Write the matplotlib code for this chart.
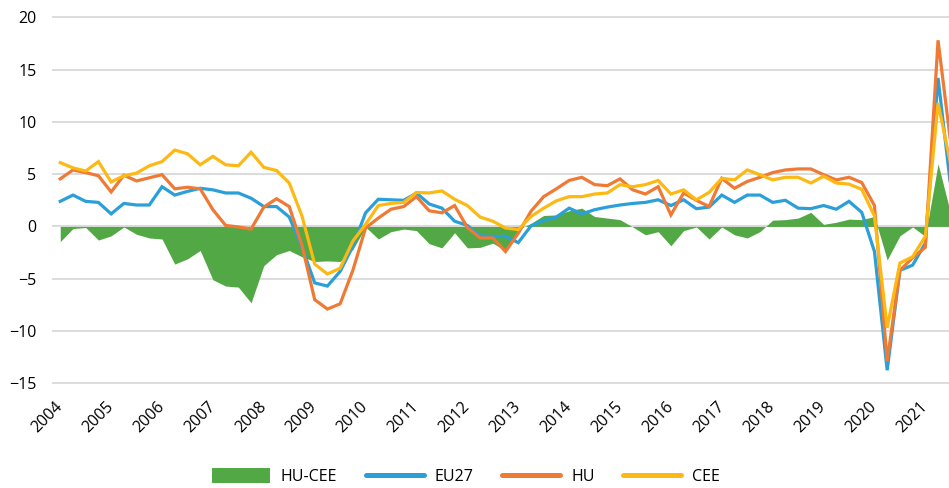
import matplotlib
matplotlib.use("Agg")
import matplotlib.pyplot as plt
from matplotlib.lines import Line2D
from matplotlib.patches import Patch
import numpy as np

plt.rcParams['font.family'] = ['Open Sans', 'DejaVu Sans']

years = [str(y) for y in range(2004, 2022)]

hu_cee = [-1.45, -0.2, -0.1, -1.3, -0.9, -0.05, -0.75, -1.1, -1.2, -3.6,
          -3.1, -2.3, -5.1, -5.7, -5.8, -7.3, -3.75, -2.7, -2.3, -2.9,
          -3.35, -3.3, -3.35, -2.2, -0.05, -1.2, -0.5, -0.25, -0.4, -1.65,
          -2.05, -0.6, -2.05, -2.0, -1.6, -2.3, -0.3, 0.3, 1.05, 1.1,
          1.5, 1.75, 0.95, 0.8, 0.65, -0.05, -0.8, -0.5, -1.85, -0.4,
          -0.05, -1.2, -0.05, -0.8, -1.1, -0.5, 0.6, 0.65, 0.8, 1.35,
          0.2, 0.4, 0.7, 0.65, 0.95, -3.2, -0.9, -0.05, -0.95, 6.0,
          1.2]

eu27 = [2.4, 3.0, 2.4, 2.3, 1.2, 2.2, 2.05, 2.05, 3.8, 3.0,
        3.35, 3.65, 3.5, 3.2, 3.2, 2.7, 1.9, 1.9, 0.9, -2.0,
        -5.4, -5.7, -4.3, -1.9, 1.3, 2.6, 2.55, 2.5, 3.2, 2.15,
        1.75, 0.5, 0.1, -0.9, -0.95, -0.95, -1.55, 0.05, 0.55, 0.9,
        1.75, 1.2, 1.6, 1.85, 2.05, 2.2, 2.3, 2.55, 2.0, 2.55,
        1.7, 1.85, 3.0, 2.3, 3.0, 3.0, 2.3, 2.5, 1.75, 1.7,
        2.0, 1.65, 2.4, 1.35, -2.4, -13.75, -4.2, -3.7, -1.6, 14.2,
        3.7]

hu = [4.55, 5.4, 5.15, 4.85, 3.3, 4.9, 4.35, 4.65, 4.95, 3.6,
      3.75, 3.6, 1.6, 0.1, -0.05, -0.25, 1.85, 2.65, 1.9, -1.8,
      -7.0, -7.9, -7.4, -4.2, -0.15, 0.8, 1.65, 1.9, 2.85, 1.5,
      1.3, 2.0, -0.1, -1.1, -1.1, -2.4, -0.65, 1.45, 2.85, 3.6,
      4.4, 4.7, 4.0, 3.9, 4.55, 3.5, 3.1, 3.8, 1.1, 3.2,
      2.5, 1.9, 4.6, 3.65, 4.3, 4.7, 5.15, 5.4, 5.5, 5.5,
      4.95, 4.45, 4.7, 4.2, 2.0, -12.9, -4.2, -3.0, -2.0, 17.8,
      7.9]

cee = [6.1, 5.6, 5.3, 6.2, 4.25, 4.85, 5.1, 5.8, 6.2, 7.3,
       6.95, 5.9, 6.7, 5.9, 5.8, 7.1, 5.65, 5.35, 4.15, 1.0,
       -3.6, -4.55, -4.0, -1.4, 0.2, 2.0, 2.2, 2.3, 3.25, 3.2,
       3.4, 2.6, 2.0, 0.9, 0.5, -0.15, -0.3, 0.95, 1.75, 2.45,
       2.85, 2.85, 3.1, 3.2, 4.0, 3.8, 4.0, 4.4, 3.1, 3.5,
       2.55, 3.25, 4.6, 4.45, 5.4, 4.95, 4.45, 4.7, 4.7, 4.15,
       4.8, 4.15, 4.05, 3.55, 1.0, -9.7, -3.5, -2.9, -0.95, 11.8,
       5.9]

yticks = [-15, -10, -5, 0, 5, 10, 15, 20]

C_GREEN = '#52A844'
C_BLUE = '#2A9FD8'
C_ORANGE = '#EE7A35'
C_YELLOW = '#FDB913'
FS = 11.5

W, H = 949, 488
fig = plt.figure(figsize=(W / 100, H / 100), dpi=100)
ax = fig.add_axes([53 / W, 1 - 383.3 / H, (W - 53) / W, (383.3 - 17.3) / H])

x = np.arange(len(eu27))
ax.fill_between(x, 0, hu_cee, color=C_GREEN, linewidth=0, zorder=2)
lw = 2.3
ax.plot(x, eu27, color=C_BLUE, lw=lw, zorder=3, solid_joinstyle='miter')
ax.plot(x, hu, color=C_ORANGE, lw=lw, zorder=4, solid_joinstyle='miter')
ax.plot(x, cee, color=C_YELLOW, lw=lw, zorder=5, solid_joinstyle='miter')

ax.set_xlim(-0.57, 69.86)
ax.set_ylim(-15, 20)
ax.set_yticks(yticks)
ax.set_yticklabels([str(v).replace('-', '\u2212') for v in yticks], fontsize=FS)
ax.set_xticks(np.arange(0, len(years) * 4, 4))
ax.set_xticklabels(years, fontsize=FS, rotation=45, ha='right', va='center',
                   rotation_mode='anchor')
ax.tick_params(axis='y', length=0, pad=12)
ax.tick_params(axis='x', length=0, pad=15)
ax.grid(axis='y', color='#D9D9D9', lw=1.3, zorder=0)
ax.grid(axis='x', visible=False)
for gl in ax.get_ygridlines():
    gl.set_clip_on(False)
for s in ax.spines.values():
    s.set_visible(False)
ax.set_axisbelow(True)

handles = [Patch(facecolor=C_GREEN, edgecolor='none', label='HU-CEE'),
           Line2D([], [], color=C_BLUE, lw=3.6, solid_capstyle='round', label='EU27'),
           Line2D([], [], color=C_ORANGE, lw=3.6, solid_capstyle='round', label='HU'),
           Line2D([], [], color=C_YELLOW, lw=3.6, solid_capstyle='round', label='CEE')]
fig.legend(handles=handles, loc='center', bbox_to_anchor=(0.491, 0.023),
           ncol=4, frameon=False, fontsize=FS, handlelength=3.6,
           handleheight=1.0, handletextpad=0.7, columnspacing=1.8,
           borderpad=0.2)

fig.savefig('out.png', dpi=100)
